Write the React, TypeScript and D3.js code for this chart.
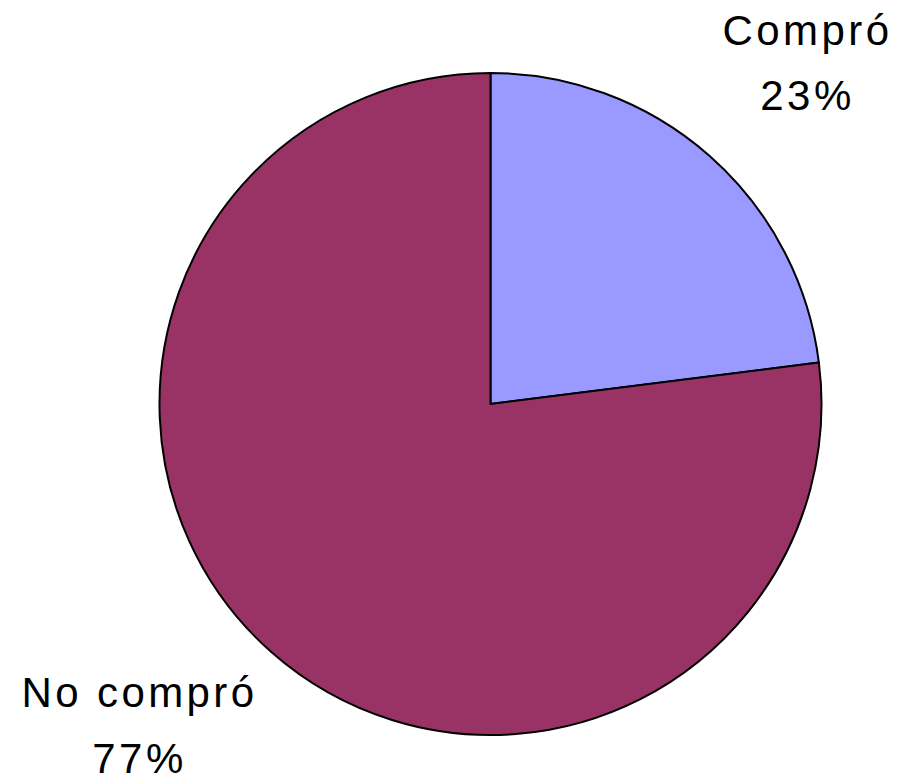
import React, { useEffect, useRef } from "react";
import * as d3 from "d3";

const categories = ["Compró", "No compró"];
const values = [23, 77];
const percentLabels = ["23%", "77%"];
const colors = ["#9999FF", "#993366"];

export default function App() {
  const ref = useRef<SVGSVGElement | null>(null);
  useEffect(() => {
    const svg = d3.select(ref.current);
    svg.selectAll("*").remove();
    const cx = 490.5, cy = 404, r = 331;
    const pie = d3.pie<number>().sort(null).value((d) => d);
    const arcs = pie(values);
    const arc = d3.arc<d3.PieArcDatum<number>>().innerRadius(0).outerRadius(r);
    const g = svg.append("g").attr("transform", `translate(${cx},${cy})`);
    g.selectAll("path")
      .data(arcs)
      .join("path")
      .attr("d", arc as any)
      .attr("fill", (_d, i) => colors[i])
      .attr("stroke", "#000")
      .attr("stroke-width", 2)
      .attr("stroke-linejoin", "round");

    const labelPos = [
      { x: 807.5, y1: 45, y2: 110 },
      { x: 139.5, y1: 707, y2: 773 },
    ];
    categories.forEach((c, i) => {
      const t = svg
        .append("text")
        .attr("text-anchor", "middle")
        .attr("font-family", "Liberation Sans, Arial, sans-serif")
        .attr("font-size", 42)
        .attr("letter-spacing", 3.4)
        .attr("fill", "#000");
      t.append("tspan").attr("x", labelPos[i].x).attr("y", labelPos[i].y1).text(c);
      t.append("tspan").attr("x", labelPos[i].x).attr("y", labelPos[i].y2).text(percentLabels[i]);
    });
  }, []);
  return (
    <svg
      ref={ref}
      width={899}
      height={780}
      style={{ position: "absolute", left: 0, top: 0, background: "#fff" }}
    />
  );
}
